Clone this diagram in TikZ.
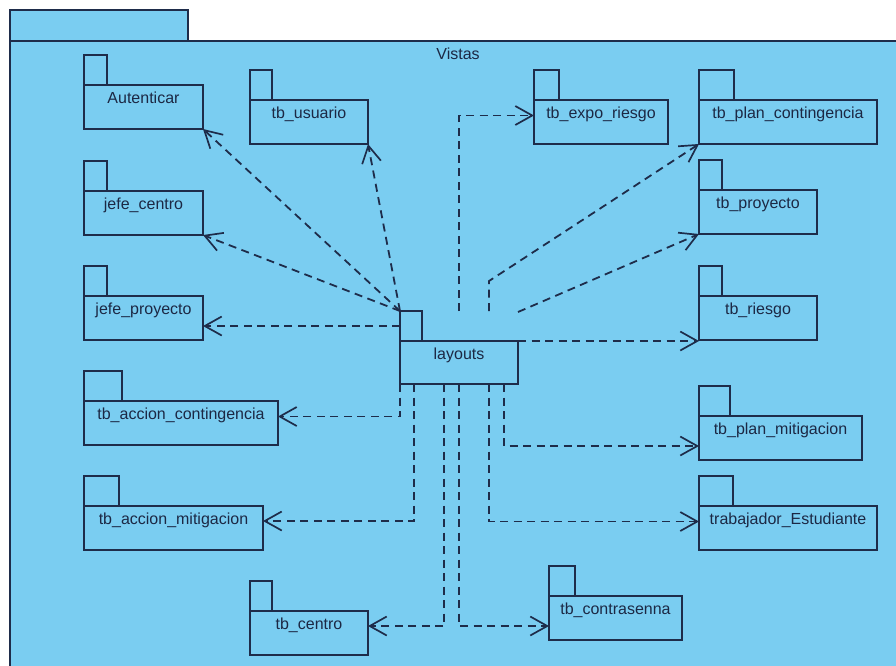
\documentclass[tikz,border=0pt]{standalone}
\usepackage{fontspec}
\setmainfont{Liberation Sans}
\usetikzlibrary{arrows.meta}
\definecolor{pkgfill}{RGB}{122,205,241}
\definecolor{pkgline}{RGB}{30,44,74}
\definecolor{pkgtext}{RGB}{28,40,68}
\tikzset{
  pkgbody/.style={draw=pkgline, fill=pkgfill, line width=1.7pt, inner sep=0pt, outer sep=0pt,
    anchor=north west, text height=18pt, text depth=26pt, text=pkgtext,
    font=\fontsize{16}{19}\selectfont},
  pkgtab/.style={draw=pkgline, fill=pkgfill, line width=1.7pt, inner sep=0pt, outer sep=0pt,
    anchor=south west, minimum height=30pt},
  dep/.style={draw=pkgline, line width=1.8pt, dash pattern=on 8pt off 5.5pt,
    -{Straight Barb[length=17pt, width=19pt, line width=1.7pt]}}
}
\begin{document}
\begin{tikzpicture}[x=1pt,y=-1pt]
\useasboundingbox (0,0) rectangle (896,665);
\clip (0,0) rectangle (896,665);
\fill[white] (0,0) rectangle (896,665);

% enclosing package "Vistas"
\node[pkgtab, line width=2pt, anchor=north west, minimum width=178pt, minimum height=31pt] (frameT) at (10,10) {};
\node[pkgbody, line width=2pt, minimum width=910pt, minimum height=640pt, text height=0pt, text depth=0pt] (frameB) at (10,41) {};
\node[anchor=base, text=pkgtext, font=\fontsize{16}{19}\selectfont] (vistas) at (458,59) {Vistas};

% inner packages: body first, then its tab on top of the body's left corner
\node[pkgbody, minimum width=119pt] (aut) at (84,85) {Autenticar};
\node[pkgtab, minimum width=23pt] (autT) at (aut.north west) {};

\node[pkgbody, minimum width=118pt] (usu) at (250,100) {tb\_usuario};
\node[pkgtab, minimum width=22pt] (usuT) at (usu.north west) {};

\node[pkgbody, minimum width=134pt] (ter) at (534,100) {tb\_expo\_riesgo};
\node[pkgtab, minimum width=25pt] (terT) at (ter.north west) {};

\node[pkgbody, minimum width=178pt] (tpc) at (699,100) {tb\_plan\_contingencia};
\node[pkgtab, minimum width=35pt] (tpcT) at (tpc.north west) {};

\node[pkgbody, minimum width=119pt] (jc) at (84,191) {jefe\_centro};
\node[pkgtab, minimum width=23pt] (jcT) at (jc.north west) {};

\node[pkgbody, minimum width=118pt] (tpr) at (699,190) {tb\_proyecto};
\node[pkgtab, minimum width=23pt] (tprT) at (tpr.north west) {};

\node[pkgbody, minimum width=119pt] (jp) at (84,296) {jefe\_proyecto};
\node[pkgtab, minimum width=23pt] (jpT) at (jp.north west) {};

\node[pkgbody, minimum width=118pt] (tri) at (699,296) {tb\_riesgo};
\node[pkgtab, minimum width=23pt] (triT) at (tri.north west) {};

\node[pkgbody, minimum width=118pt, text depth=25pt] (lay) at (400,341) {layouts};
\node[pkgtab, minimum width=22pt] (layT) at (lay.north west) {};

\node[pkgbody, minimum width=194pt] (tac) at (84,401) {tb\_accion\_contingencia};
\node[pkgtab, minimum width=38pt] (tacT) at (tac.north west) {};

\node[pkgbody, minimum width=163pt] (tpm) at (699,416) {tb\_plan\_mitigacion};
\node[pkgtab, minimum width=31pt] (tpmT) at (tpm.north west) {};

\node[pkgbody, minimum width=179pt] (tam) at (84,506) {tb\_accion\_mitigacion};
\node[pkgtab, minimum width=35pt] (tamT) at (tam.north west) {};

\node[pkgbody, minimum width=178pt] (tra) at (699,506) {trabajador\_Estudiante};
\node[pkgtab, minimum width=34pt] (traT) at (tra.north west) {};

\node[pkgbody, minimum width=118pt] (tce) at (250,611) {tb\_centro};
\node[pkgtab, minimum width=22pt] (tceT) at (tce.north west) {};

\node[pkgbody, minimum width=133pt] (tco) at (549,596) {tb\_contrasenna};
\node[pkgtab, minimum width=26pt] (tcoT) at (tco.north west) {};

% dependencies of "layouts"
\draw[dep] (layT.north west) -- (aut.south east);
\draw[dep] (layT.north west) -- (usu.south east);
\draw[dep] (layT.north west) -- (jc.south east);
\draw[dep] (layT.west) -- (layT.west -| jp.east);
\draw[dep] (lay.south west) |- ([yshift=6.5pt]tac.east);
\draw[dep] ([xshift=14pt]lay.south west) |- ([yshift=7pt]tam.east);
\draw[dep] ([xshift=44pt]lay.south west) |- ([yshift=7pt]tce.east);
\draw[dep] ([xshift=59pt]lay.south west) |- ([yshift=-8pt]tco.west);
\draw[dep] ([xshift=89pt]lay.south west) |- ([yshift=6.5pt]tra.west);
\draw[dep] ([xshift=104pt]lay.south west) |- ([yshift=-8pt]tpm.west);
\draw[dep] (lay.north east) -- (lay.north east -| tri.west);
\draw[dep] ([xshift=59pt]layT.north west) |- ([yshift=6.5pt]ter.west);
\coordinate (pcBend) at ([xshift=89pt,yshift=30pt]layT.north west);
\draw[dep] ([xshift=89pt]layT.north west) -- (pcBend) -- (tpc.south west);
\draw[dep] ([yshift=29pt]lay.north east) -- (tpr.south west);
\end{tikzpicture}
\end{document}
